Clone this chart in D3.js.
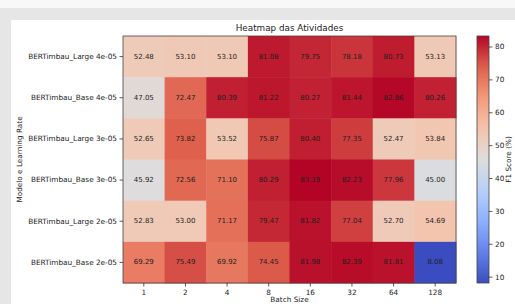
<!DOCTYPE html>
<html>
<head>
<meta charset="utf-8">
<script src="https://cdn.jsdelivr.net/npm/d3@7"></script>
<style>
  html, body { margin: 0; padding: 0; background: #fff; }
  svg { display: block; font-family: "DejaVu Sans", sans-serif; }
</style>
</head>
<body>
<div id="plot"></div>
<script>
// Heatmap of F1 scores by model / learning rate vs batch size
const rows = [
  'BERTimbau_Large 4e-05',
  'BERTimbau_Base 4e-05',
  'BERTimbau_Large 3e-05',
  'BERTimbau_Base 3e-05',
  'BERTimbau_Large 2e-05',
  'BERTimbau_Base 2e-05'
];
const batchSizes = ['1', '2', '4', '8', '16', '32', '64', '128'];
const scores = [
  [52.48, 53.10, 53.10, 81.08, 79.75, 78.18, 80.73, 53.13],
  [47.05, 72.47, 80.39, 81.22, 80.27, 81.44, 82.86, 80.26],
  [52.65, 73.82, 53.52, 75.87, 80.40, 77.35, 52.47, 53.84],
  [45.92, 72.56, 71.10, 80.29, 83.19, 82.23, 77.96, 45.00],
  [52.83, 53.00, 71.17, 79.47, 81.82, 77.04, 52.70, 54.69],
  [69.29, 75.49, 69.92, 74.45, 81.98, 82.39, 81.81, 8.08]
];
const cbarTicks = [10, 20, 30, 40, 50, 60, 70, 80];

const W = 515, H = 304;
const svg = d3.select('#plot').append('svg').attr('width', W).attr('height', H);

// page chrome around the figure
svg.append('rect').attr('x', 0).attr('y', 0).attr('width', W).attr('height', H).attr('fill', '#fff');
svg.append('rect').attr('x', 0).attr('y', 0).attr('width', W).attr('height', 8).attr('fill', '#f8f8f8');
svg.append('rect').attr('x', 0).attr('y', 8).attr('width', W).attr('height', 12).attr('fill', '#e6e6e6');
svg.append('rect').attr('x', 0).attr('y', 8).attr('width', 11).attr('height', H).attr('fill', '#e6e6e6');

const plot = { left: 123, top: 36, right: 456, bottom: 283 };
const cells = [];
rows.forEach((r, i) => batchSizes.forEach((b, j) => cells.push({ row: r, col: b, v: scores[i][j] })));

const x = d3.scaleBand().domain(batchSizes).range([plot.left, plot.right]);
const y = d3.scaleBand().domain(rows).range([plot.top, plot.bottom]);

const vmin = d3.min(cells, d => d.v), vmax = d3.max(cells, d => d.v);
// matplotlib coolwarm approximation
const cwStops = ['#3b4cc0', '#6282ea', '#8db0fe', '#b8d0f9', '#dddddd', '#f5c4ac', '#f49a7b', '#de604d', '#b40426'];
const norm = d3.scaleLinear().domain([vmin, vmax]).range([0, 1]).clamp(true);
const cw = d3.scaleLinear().domain(d3.range(cwStops.length).map(i => i / (cwStops.length - 1))).range(cwStops);
const color = v => cw(norm(v));

svg.append('g').selectAll('rect').data(cells).join('rect')
  .attr('x', d => x(d.col)).attr('y', d => y(d.row))
  .attr('width', x.bandwidth() + 0.5).attr('height', y.bandwidth() + 0.5)
  .attr('fill', d => color(d.v));

svg.append('g').selectAll('text').data(cells).join('text')
  .attr('x', d => x(d.col) + x.bandwidth() / 2)
  .attr('y', d => y(d.row) + y.bandwidth() / 2)
  .attr('text-anchor', 'middle').attr('dominant-baseline', 'central')
  .style('font-size', '7px').style('fill', '#1e1e1e')
  .text(d => d.v.toFixed(2));

svg.append('rect').attr('x', plot.left).attr('y', plot.top)
  .attr('width', plot.right - plot.left).attr('height', plot.bottom - plot.top)
  .attr('fill', 'none').attr('stroke', '#444').attr('stroke-width', 0.8);

const xAxis = svg.append('g').attr('transform', `translate(0,${plot.bottom})`)
  .call(d3.axisBottom(x).tickSize(3.5).tickPadding(3));
const yAxis = svg.append('g').attr('transform', `translate(${plot.left},0)`)
  .call(d3.axisLeft(y).tickSize(3.5).tickPadding(2.5));
[xAxis, yAxis].forEach(a => {
  a.select('.domain').remove();
  a.selectAll('line').attr('stroke', '#333').attr('stroke-width', 0.8);
  a.selectAll('text').style('font-size', '7.3px').style('fill', '#222').style('font-family', '"DejaVu Sans", sans-serif');
});

// colorbar
const cb = { x: 477, w: 12, top: plot.top, bottom: plot.bottom };
const cScale = d3.scaleLinear().domain([vmin, vmax]).range([cb.bottom, cb.top]);
const defs = svg.append('defs');
const grad = defs.append('linearGradient').attr('id', 'cbgrad').attr('x1', 0).attr('y1', 1).attr('x2', 0).attr('y2', 0);
d3.range(0, 1.0001, 0.05).forEach(t => grad.append('stop').attr('offset', t).attr('stop-color', cw(t)));
svg.append('rect').attr('x', cb.x).attr('y', cb.top).attr('width', cb.w).attr('height', cb.bottom - cb.top)
  .attr('fill', 'url(#cbgrad)').attr('stroke', '#444').attr('stroke-width', 0.8);
const cAxis = svg.append('g').attr('transform', `translate(${cb.x + cb.w},0)`)
  .call(d3.axisRight(cScale).tickValues(cbarTicks).tickSize(3.5).tickPadding(2.5));
cAxis.select('.domain').remove();
cAxis.selectAll('line').attr('stroke', '#333').attr('stroke-width', 0.8);
cAxis.selectAll('text').style('font-size', '7.3px').style('fill', '#222').style('font-family', '"DejaVu Sans", sans-serif');

svg.append('text').attr('transform', `translate(508,${(cb.top + cb.bottom) / 2}) rotate(-90)`)
  .attr('text-anchor', 'middle').attr('dominant-baseline', 'central')
  .style('font-size', '7.3px').style('fill', '#222').text('F1 Score (%)');

svg.append('text').attr('x', (plot.left + plot.right) / 2).attr('y', 31)
  .attr('text-anchor', 'middle').style('font-size', '8.8px').style('fill', '#222').text('Heatmap das Atividades');

svg.append('text').attr('x', (plot.left + plot.right) / 2).attr('y', 302)
  .attr('text-anchor', 'middle').style('font-size', '7.3px').style('fill', '#222').text('Batch Size');

svg.append('text').attr('transform', `translate(19,${(plot.top + plot.bottom) / 2}) rotate(-90)`)
  .attr('text-anchor', 'middle').attr('dominant-baseline', 'central')
  .style('font-size', '7.3px').style('fill', '#222').text('Modelo e Learning Rate');
</script>
</body>
</html>
